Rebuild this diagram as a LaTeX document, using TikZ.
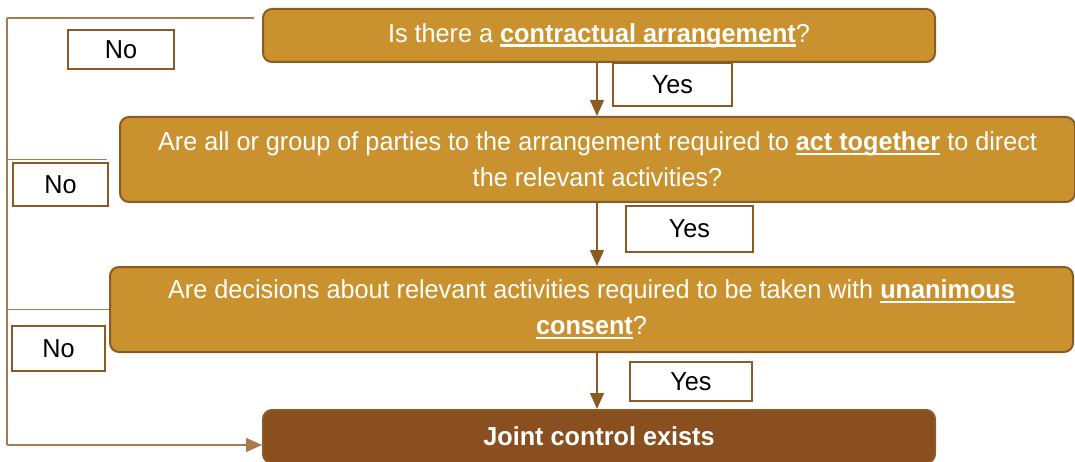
\documentclass[tikz,border=0pt]{standalone}
\usepackage{fontspec}
\setmainfont{Liberation Sans}[FakeStretch=0.97]
\usepackage{tikz}
\usetikzlibrary{arrows.meta, positioning}
\definecolor{gold}{HTML}{C9922F}
\definecolor{rim}{HTML}{8E5A23}
\definecolor{bark}{HTML}{8A4F1E}
\definecolor{rail}{HTML}{A87A4C}
% bold key words with a heavy underline
\newcommand\keyword[1]{\setbox0\hbox{\textbf{#1}}\rlap{\rule[-4.5pt]{\wd0}{2.4pt}}\box0\relax}

\begin{document}
\begin{tikzpicture}[x=1pt, y=-1pt,
    question/.style={draw=rim, line width=2pt, fill=gold, rounded corners=9pt, text=white,
        font=\fontsize{26}{36}\selectfont, align=center, inner sep=0pt},
    answer/.style={draw=rim, line width=1.6pt, fill=white, font=\fontsize{26}{28}\selectfont, inner sep=0pt},
    flow/.style={rim, line width=1.4pt, -{Triangle[width=14pt, length=16pt]}},
    back/.style={rail, line width=1.4pt}]
    \useasboundingbox (0,0) rectangle (1075,462);
    \node[question, minimum width=672pt, minimum height=53pt] (q1) at (599, 35.5)
        {Is there a \keyword{contractual arrangement}?};
    \node[question, minimum width=955pt, minimum height=85pt] (q2) at (597.5, 159.5)
        {Are all or group of parties to the arrangement required to \keyword{act together} to direct\\the relevant activities?};
    \node[question, minimum width=963pt, minimum height=85pt] (q3) at (591.5, 309.5)
        {Are decisions about relevant activities required to be taken with \keyword{unanimous}\\\keyword{consent}?};
    \node[question, fill=bark, minimum width=672pt, minimum height=53pt, font=\fontsize{26}{28}\selectfont\bfseries] (joint) at (599, 436.5)
        {Joint control exists};
    \node[answer, minimum width=119pt, minimum height=43pt] (yes1) at (672.5, 84.5) {Yes};
    \node[answer, minimum width=127pt, minimum height=46pt] (yes2) at (689.5, 229) {Yes};
    \node[answer, minimum width=122pt, minimum height=39pt] (yes3) at (691, 381.5) {Yes};
    \node[answer, minimum width=106pt, minimum height=39pt] (no1) at (121, 49.5) {No};
    \node[answer, minimum width=95pt, minimum height=43pt] (no2) at (60.5, 184.5) {No};
    \node[answer, minimum width=93pt, minimum height=45pt] (no3) at (58.5, 348.5) {No};
    \coordinate (top) at (7, 18);
    \draw[flow] (q1.south -| 597,0) -- (q2.north -| 597,0);
    \draw[flow] (q2.south -| 597,0) -- (q3.north -| 597,0);
    \draw[flow] (q3.south -| 597,0) -- (joint.north -| 597,0);
    \draw[back] ([xshift=-8pt]q1.west |- top) -- (top);
    \draw[back] ([xshift=-12pt]q2.west) -- (top |- q2.west);
    \draw[back] (q3.west) -- (top |- q3.west);
    \draw[back] (top) -- (7, 445);
    \draw[back, -{Triangle[width=14pt, length=16pt]}] (7, 445) -- ([yshift=-8.5pt]joint.west);
\end{tikzpicture}
\end{document}
